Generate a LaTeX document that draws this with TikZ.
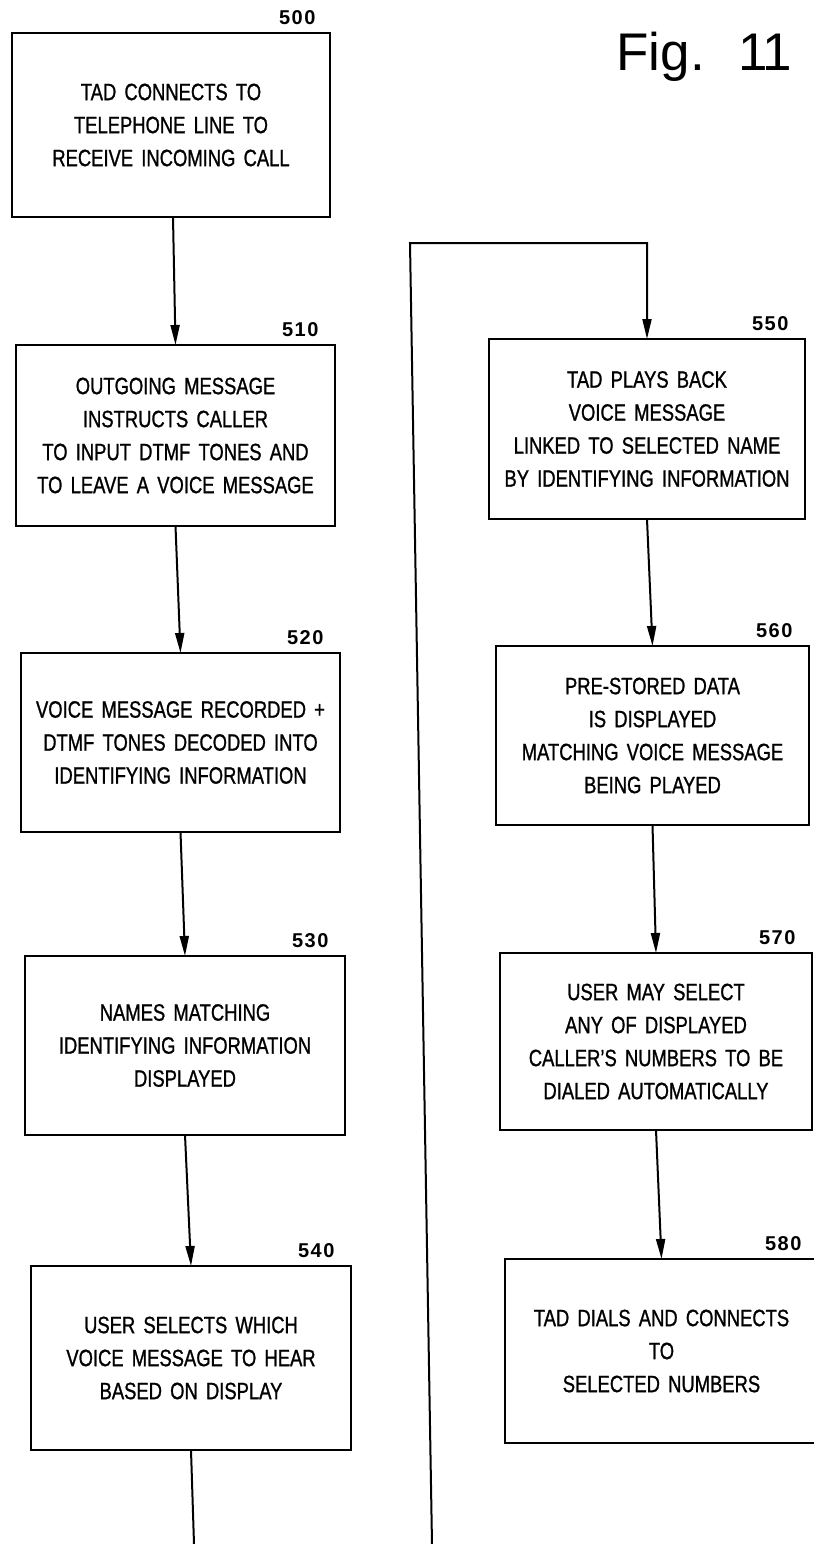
\documentclass[tikz,border=0pt]{standalone}
\usepackage{fontspec}
\setmainfont{Liberation Sans}[FakeStretch=0.78, WordSpace=1.6, FakeBold=1]
\newfontfamily\figfont{Liberation Sans}
\newfontfamily\lblfont{Liberation Sans}[LetterSpace=8]
\usetikzlibrary{arrows.meta}
\begin{document}
\begin{tikzpicture}[x=0.5pt,y=-0.5pt,
  box/.style={draw, line width=1pt, inner sep=0pt, outer sep=0pt, align=center,
    font=\fontsize{11.8}{16.5}\selectfont},
  lbl/.style={font=\lblfont\bfseries\fontsize{10}{10}\selectfont, inner sep=0pt, anchor=south east},
  arr/.style={line width=1pt, -{Triangle[length=10pt,width=4.5pt]}},
  ln/.style={line width=1pt}]
\useasboundingbox (0,0) rectangle (814,1544);

% Title
\node[font=\figfont\fontsize{26.5}{28}\selectfont, anchor=base west, inner sep=0pt] (fig) at (616,70) {Fig.\hspace{17pt}1\kern-3pt 1};

% Left column
\node[box, minimum width=159pt, minimum height=92pt] (b500) at (171,125)
  {TAD CONNECTS TO\\TELEPHONE LINE TO\\RECEIVE INCOMING CALL};
\node[box, minimum width=159.5pt, minimum height=90.5pt] (b510) at (175.5,435.5)
  {OUTGOING MESSAGE\\INSTRUCTS CALLER\\TO INPUT DTMF TONES AND\\TO LEAVE A VOICE MESSAGE};
\node[box, minimum width=159.5pt, minimum height=89.5pt] (b520) at (180.5,742.5)
  {VOICE MESSAGE RECORDED +\\DTMF TONES DECODED INTO\\IDENTIFYING INFORMATION};
\node[box, minimum width=160pt, minimum height=89.5pt] (b530) at (185,1045.5)
  {NAMES MATCHING\\IDENTIFYING INFORMATION\\DISPLAYED};
\node[box, minimum width=160pt, minimum height=92pt] (b540) at (191,1358)
  {USER SELECTS WHICH\\VOICE MESSAGE TO HEAR\\BASED ON DISPLAY};

% Right column
\node[box, minimum width=158pt, minimum height=90pt] (b550) at (647,429)
  {TAD PLAYS BACK\\VOICE MESSAGE\\LINKED TO SELECTED NAME\\BY IDENTIFYING INFORMATION};
\node[box, minimum width=156.5pt, minimum height=89.5pt] (b560) at (652.5,735.5)
  {PRE-STORED DATA\\IS DISPLAYED\\MATCHING VOICE MESSAGE\\BEING PLAYED};
\node[box, minimum width=156pt, minimum height=88.5pt] (b570) at (656,1041.5)
  {USER MAY SELECT\\ANY OF DISPLAYED\\CALLER'S NUMBERS TO BE\\DIALED AUTOMATICALLY};
\node[box, minimum width=156.5pt, minimum height=92pt] (b580) at (661.5,1351)
  {TAD DIALS AND CONNECTS\\TO\\SELECTED NUMBERS};

% Reference labels
\node[lbl] (l500) at ([xshift=-7pt,yshift=4pt]b500.north east) {500};
\node[lbl] (l510) at ([xshift=-8pt,yshift=4pt]b510.north east) {510};
\node[lbl] (l520) at ([xshift=-8pt,yshift=4pt]b520.north east) {520};
\node[lbl] (l530) at ([xshift=-8pt,yshift=4pt]b530.north east) {530};
\node[lbl] (l540) at ([xshift=-8pt,yshift=4pt]b540.north east) {540};
\node[lbl] (l550) at ([xshift=-8pt,yshift=4pt]b550.north east) {550};
\node[lbl] (l560) at ([xshift=-8pt,yshift=4pt]b560.north east) {560};
\node[lbl] (l570) at ([xshift=-8pt,yshift=4pt]b570.north east) {570};
\node[lbl] (l580) at ([xshift=-8pt,yshift=4pt]b580.north east) {580};

% Connectors
\draw[arr] ([xshift=1pt]b500.south) -- (b510.north);
\draw[arr] (b510.south) -- (b520.north);
\draw[arr] (b520.south) -- (b530.north);
\draw[arr] (b530.south) -- (b540.north);
\coordinate (e1) at (194,1544);
\draw[ln] (b540.south) -- (e1);
\coordinate (e2) at (432,1544);
\coordinate (t1) at (410,243);
\draw[arr] (e2) -- (t1) -- (t1 -| b550.north) -- (b550.north);
\draw[arr] (b550.south) -- (b560.north);
\draw[arr] (b560.south) -- (b570.north);
\draw[arr] (b570.south) -- (b580.north);
\end{tikzpicture}
\end{document}
